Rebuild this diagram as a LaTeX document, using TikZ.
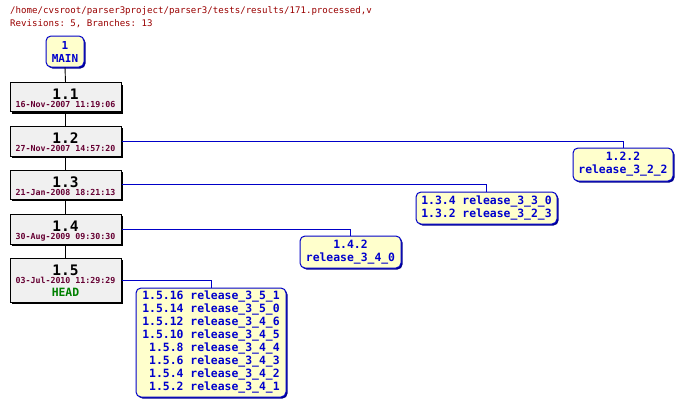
\documentclass[tikz,border=0pt]{standalone}
\usepackage{fontspec}
\setmonofont{DejaVu Sans Mono}
\usetikzlibrary{shadows}
\definecolor{hdr}{RGB}{153,0,0}
\definecolor{datec}{RGB}{102,0,51}
\definecolor{brfill}{RGB}{255,255,204}
\definecolor{brtext}{RGB}{0,0,204}
\definecolor{brline}{RGB}{0,0,200}
\definecolor{revfill}{RGB}{240,240,240}
\definecolor{headc}{RGB}{0,128,0}
\begin{document}
\begin{tikzpicture}[x=1pt,y=-1pt,
  revbox/.style={draw=black,fill=revfill,line width=1pt,minimum width=111pt,inner sep=0pt,
    drop shadow={shadow xshift=2pt,shadow yshift=-2pt,fill=black,opacity=1},align=center},
  brbox/.style={draw=brline,fill=brfill,line width=1pt,rounded corners=5pt,inner sep=0pt,
    drop shadow={shadow xshift=1.5pt,shadow yshift=-1.5pt,fill=brline!70!black,opacity=1},
    font=\ttfamily\bfseries\fontsize{11.4}{13}\selectfont,text=brtext},
  trunk/.style={draw=black,line width=0.9pt},
  branch/.style={draw=brline,line width=0.9pt},
  revnum/.style={font=\ttfamily\bfseries\fontsize{14.5}{14}\selectfont},
  datetxt/.style={font=\ttfamily\bfseries\fontsize{8.3}{9}\selectfont,text=datec}]
\useasboundingbox (0,0) rectangle (683,407);
\node[anchor=base west,font=\ttfamily\fontsize{9.1}{10}\selectfont,text=hdr,inner sep=0pt] (h1) at (10,13) {/home/cvsroot/parser3project/parser3/tests/results/171.processed,v};
\node[anchor=base west,font=\ttfamily\fontsize{9.1}{10}\selectfont,text=hdr,inner sep=0pt] (h2) at (10,26) {Revisions: 5, Branches: 13};

\node[brbox,minimum width=38pt,minimum height=31pt,align=center,font=\ttfamily\bfseries\fontsize{11}{13}\selectfont] (main) at (65,51.5) {1\\MAIN};

\node[revbox,minimum height=29pt] (r11) at (65.5,97) {};
\node[revnum,anchor=base] at (65.5,99) {1.1};
\node[datetxt,anchor=base] at (65.5,107) {16-Nov-2007 11:19:06};

\node[revbox,minimum height=30pt] (r12) at (65.5,141) {};
\node[revnum,anchor=base] at (65.5,143) {1.2};
\node[datetxt,anchor=base] at (65.5,151.5) {27-Nov-2007 14:57:20};

\node[revbox,minimum height=29pt] (r13) at (65.5,184.5) {};
\node[revnum,anchor=base] at (65.5,187) {1.3};
\node[datetxt,anchor=base] at (65.5,195) {21-Jan-2008 18:21:13};

\node[revbox,minimum height=30pt] (r14) at (65.5,229) {};
\node[revnum,anchor=base] at (65.5,231) {1.4};
\node[datetxt,anchor=base] at (65.5,239.5) {30-Aug-2009 09:30:30};

\node[revbox,minimum height=44pt] (r15) at (65.5,280) {};
\node[revnum,anchor=base] at (65.5,275) {1.5};
\node[datetxt,anchor=base] at (65.5,283) {03-Jul-2010 11:29:29};
\node[anchor=base,font=\ttfamily\bfseries\fontsize{11.4}{13}\selectfont,text=headc] at (65.5,296) {HEAD};

\node[brbox,minimum width=100pt,minimum height=33pt,align=center] (b122) at (623,164.5) {1.2.2\\release\_3\_2\_2};
\node[brbox,minimum width=141pt,minimum height=32pt,align=right] (b13) at (486.5,208) {1.3.4 release\_3\_3\_0\\1.3.2 release\_3\_2\_3};
\node[brbox,minimum width=101pt,minimum height=32pt,align=center] (b14) at (350.5,252) {1.4.2\\release\_3\_4\_0};
\node[brbox,minimum width=150pt,minimum height=109pt,align=right] (b15) at (211,342.5) {1.5.16 release\_3\_5\_1\\1.5.14 release\_3\_5\_0\\1.5.12 release\_3\_4\_6\\1.5.10 release\_3\_4\_5\\1.5.8 release\_3\_4\_4\\1.5.6 release\_3\_4\_3\\1.5.4 release\_3\_4\_2\\1.5.2 release\_3\_4\_1};

\draw[trunk] (main.south) -- (r11.north);
\draw[trunk] (r11.south) -- (r12.north);
\draw[trunk] (r12.south) -- (r13.north);
\draw[trunk] (r13.south) -- (r14.north);
\draw[trunk] (r14.south) -- (r15.north);

\draw[branch] (r12.east) -| (b122.north);
\draw[branch] (r13.east) -| (b13.north);
\draw[branch] (r14.east) -| (b14.north);
\draw[branch] (r15.east) -| (b15.north);
\end{tikzpicture}
\end{document}
